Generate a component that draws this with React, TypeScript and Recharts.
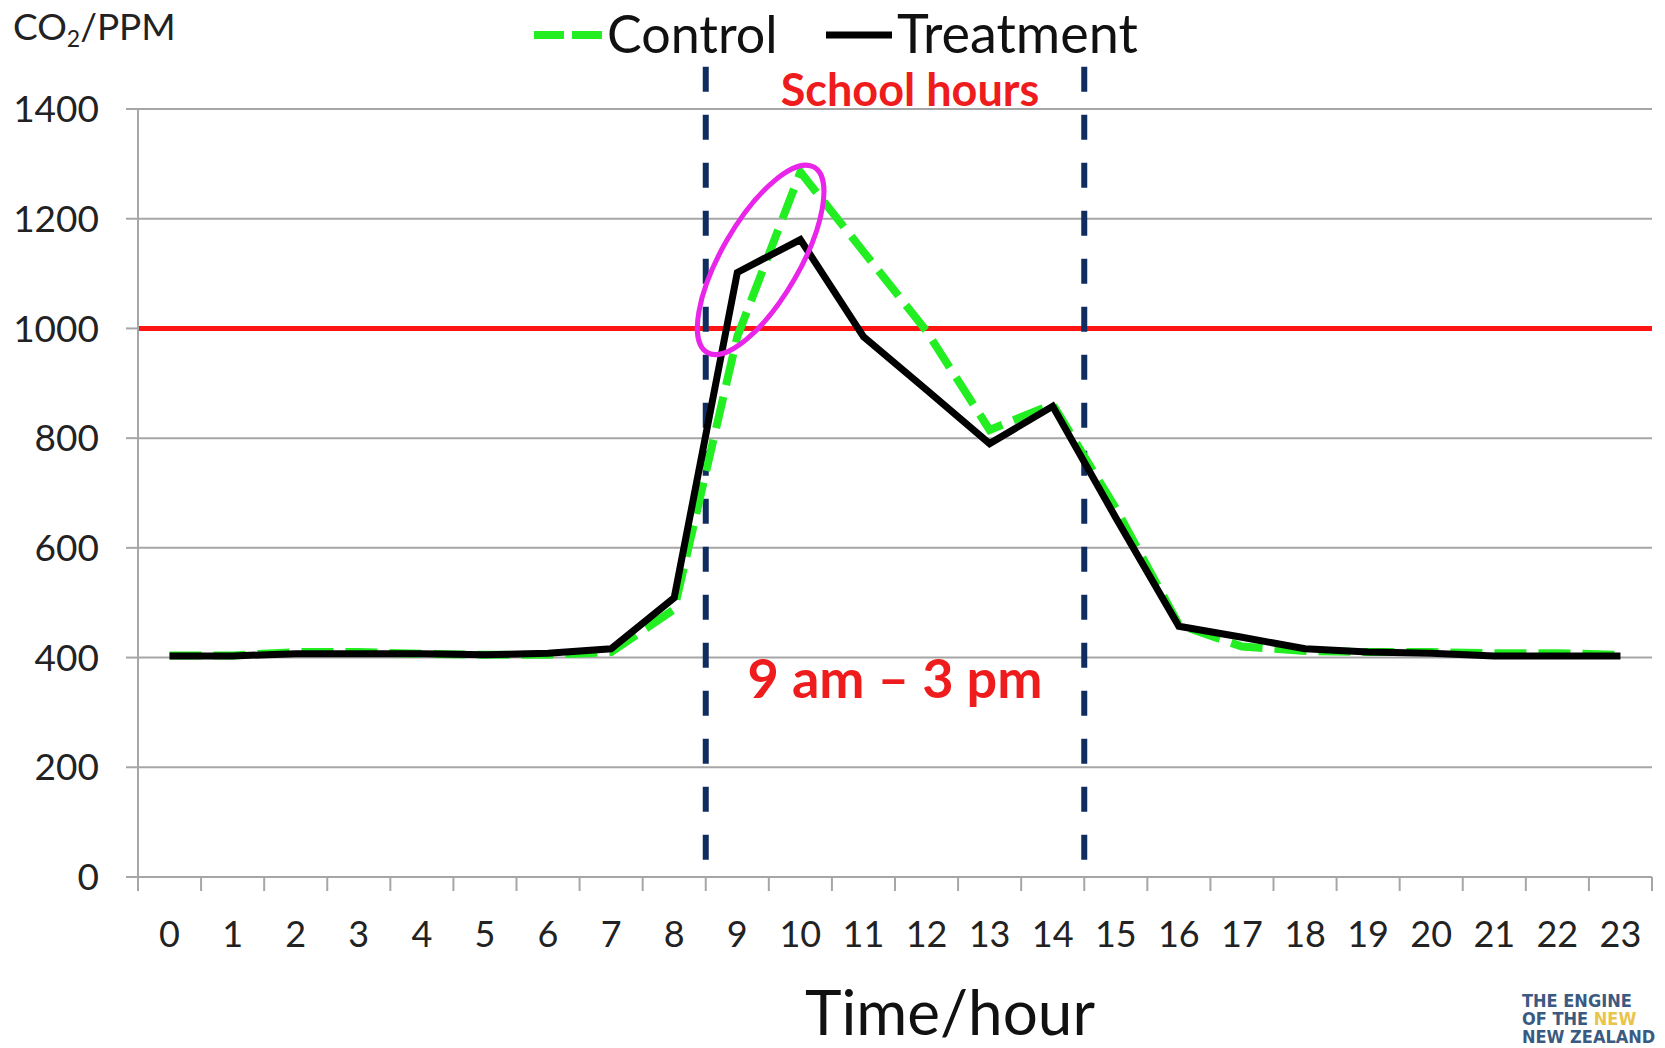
import { LineChart, Line, XAxis, YAxis, CartesianGrid, ReferenceLine, ReferenceDot } from "recharts";

// hourly CO2 readings (ppm)
const hours = [0, 1, 2, 3, 4, 5, 6, 7, 8, 9, 10, 11, 12, 13, 14, 15, 16, 17, 18, 19, 20, 21, 22, 23];
const control = [404, 404, 410, 410, 407, 405, 405, 410, 488, 985, 1285, 1140, 995, 815, 862, 672, 460, 420, 412, 410, 410, 408, 408, 405];
const treatment = [403, 403, 407, 407, 407, 405, 408, 416, 509, 1102, 1162, 985, 888, 790, 858, 655, 457, 437, 416, 410, 408, 403, 403, 403];
const yTicks = [0, 200, 400, 600, 800, 1000, 1200, 1400];
// tick marks sit between the hours, labels on the hours
const xTicks = [-0.5, ...hours.flatMap(h => [h, h + 0.5])];

const schoolStart = 8.5;
const schoolEnd = 14.5;
const limit = 1000;

const FONT = "Lato, 'Noto Sans', sans-serif";
const GRID = "#a6a6a6";
const NAVY = "#0f2d5e";

const data = hours.map((h, i) => ({ hour: h, control: control[i], treatment: treatment[i] }));

function HourTick(props: any) {
  const { x, y, payload } = props;
  const v = payload.value as number;
  if (Number.isInteger(v)) {
    return (
      <text x={x} y={y + 70} textAnchor="middle" fontSize={36} fontFamily={FONT} fill="#222">
        {v}
      </text>
    );
  }
  return <line x1={x} x2={x} y1={y} y2={y + 14} stroke={GRID} strokeWidth={2} />;
}

function Ellipse(props: any) {
  const { cx, cy } = props;
  return (
    <ellipse
      cx={cx}
      cy={cy}
      rx={107}
      ry={39}
      fill="none"
      stroke="#e825e8"
      strokeWidth={5}
      transform={`rotate(-60 ${cx} ${cy})`}
    />
  );
}

export default function App() {
  return (
    <div style={{ position: "absolute", left: 0, top: 0, width: 1665, height: 1048, background: "#fff" }}>
      <LineChart width={1665} height={1048} data={data} margin={{ top: 109, right: 13, left: 0, bottom: 0 }}>
        <CartesianGrid vertical={false} stroke={GRID} strokeWidth={2} />
        <XAxis
          dataKey="hour"
          type="number"
          domain={[-0.5, 23.5]}
          ticks={xTicks}
          interval={0}
          height={171}
          tickLine={false}
          tickSize={0}
          tickMargin={0}
          axisLine={{ stroke: GRID, strokeWidth: 2 }}
          tick={<HourTick />}
        />
        <YAxis
          domain={[0, 1400]}
          ticks={yTicks}
          width={138}
          tickSize={12}
          tickMargin={27}
          axisLine={{ stroke: GRID, strokeWidth: 2 }}
          tickLine={{ stroke: GRID, strokeWidth: 2 }}
          tick={{ fontSize: 37, fontFamily: FONT, fill: "#222" }}
        />
        <ReferenceLine y={limit} stroke="#ff1414" strokeWidth={5} />
        <ReferenceLine
          segment={[{ x: schoolStart, y: 1477 }, { x: schoolStart, y: 0 }]}
          stroke={NAVY}
          strokeWidth={6}
          strokeDasharray="25 23"
          ifOverflow="visible"
        />
        <ReferenceLine
          segment={[{ x: schoolEnd, y: 1477 }, { x: schoolEnd, y: 0 }]}
          stroke={NAVY}
          strokeWidth={6}
          strokeDasharray="25 23"
          ifOverflow="visible"
        />
        <Line
          type="linear"
          dataKey="control"
          stroke="#22ee22"
          strokeWidth={8}
          strokeDasharray="32 12"
          dot={false}
          isAnimationActive={false}
        />
        <Line
          type="linear"
          dataKey="treatment"
          stroke="#000"
          strokeWidth={7}
          dot={false}
          isAnimationActive={false}
        />
        <ReferenceDot x={9.37} y={1125} shape={<Ellipse />} ifOverflow="visible" />
      </LineChart>

      <svg width={1665} height={1048} style={{ position: "absolute", left: 0, top: 0, pointerEvents: "none" }}>
        <text x={13} y={40} fontSize={37} fontFamily={FONT} fill="#222">
          CO<tspan fontSize={23} dy={7}>2</tspan>
          <tspan dy={-7}>/PPM</tspan>
        </text>

        {/* legend */}
        <line x1={534} x2={604} y1={35} y2={35} stroke="#22ee22" strokeWidth={8} strokeDasharray="30 8" />
        <text x={607} y={53} fontSize={52} fontFamily={FONT} fill="#111">Control</text>
        <line x1={826} x2={892} y1={35} y2={35} stroke="#000" strokeWidth={7} />
        <text x={897} y={53} fontSize={54} fontFamily={FONT} fill="#111">Treatment</text>

        <text x={910} y={106} textAnchor="middle" fontSize={45} fontWeight="bold" fontFamily={FONT} fill="#ee1c1c">
          School hours
        </text>
        <text x={895} y={698} textAnchor="middle" fontSize={54} fontWeight="bold" fontFamily={FONT} fill="#ee1c1c">
          9 am – 3 pm
        </text>

        <text x={950} y={1035} textAnchor="middle" fontSize={62} fontFamily={FONT} fill="#111">
          Time/hour
        </text>

        <g fontFamily="'Liberation Sans Narrow', 'DejaVu Sans Condensed', sans-serif" fontWeight="bold" fontSize={18} fill="#3b5a82">
          <text x={1522} y={1007}>THE ENGINE</text>
          <text x={1522} y={1025}>
            OF THE <tspan fill="#e8c54a">NEW</tspan>
          </text>
          <text x={1522} y={1043}>NEW ZEALAND</text>
        </g>
      </svg>
    </div>
  );
}
